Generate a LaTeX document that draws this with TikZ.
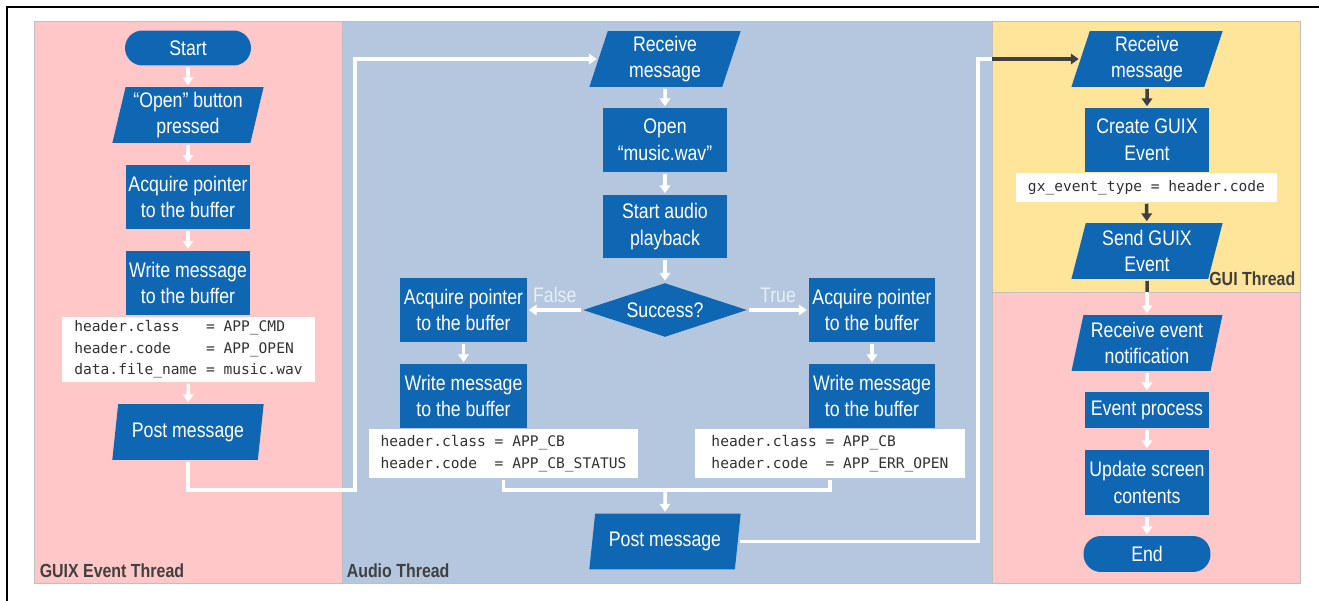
\documentclass[tikz,border=0pt]{standalone}
\usepackage{fontspec}
\setmainfont{Liberation Sans}
\setmonofont{DejaVu Sans Mono}
\newfontfamily\nodefont{Liberation Sans}[FakeStretch=0.84]
\usetikzlibrary{shapes.geometric,arrows.meta}
\definecolor{nodeblue}{RGB}{15,103,180}
\definecolor{lanepink}{RGB}{255,199,199}
\definecolor{laneblue}{RGB}{180,199,223}
\definecolor{laneyellow}{RGB}{255,229,153}
\definecolor{labgray}{RGB}{64,64,64}
\definecolor{codegray}{RGB}{50,50,50}
\definecolor{branchtext}{RGB}{232,238,246}

\begin{document}
\begin{tikzpicture}[x=0.02cm,y=-0.02cm]
\useasboundingbox (0,0) rectangle (1319,601);
% frame and thread lanes
\draw[line width=1.1pt] (7,601) -- (7,7) -- (1319,7);
\filldraw[draw=black!25,fill=lanepink] (34,21) rectangle (342,583);
\filldraw[draw=black!25,fill=laneblue] (342,21) rectangle (992,583);
\filldraw[draw=black!25,fill=laneyellow] (992,21) rectangle (1300,292);
\filldraw[draw=black!25,fill=lanepink] (992,292) rectangle (1300,583);
\begin{scope}[->,>={Triangle[width=6pt,length=4.5pt]},line width=2pt,
              block1/.style={rectangle,fill=nodeblue,text=white,align=center,inner sep=0pt,
                             minimum width=2.5cm,minimum height=1.3cm,
                             font=\nodefont\fontsize{12}{15.3}\selectfont},
              block2/.style={trapezium,trapezium left angle=76,trapezium right angle=104,
                             trapezium stretches=true,fill=nodeblue,text=white,align=center,
                             inner sep=0pt,minimum width=3.04cm,minimum height=1.12cm,
                             font=\nodefont\fontsize{12}{15.3}\selectfont},
              block3/.style={rectangle,rounded corners=0.35cm,fill=nodeblue,text=white,
                             minimum width=2.52cm,minimum height=0.7cm,
                             font=\nodefont\fontsize{12}{15.3}\selectfont},
              block4/.style={diamond,aspect=3,fill=nodeblue,text=white,inner sep=0pt,
                             minimum width=3.3cm,minimum height=1.1cm,
                             font=\nodefont\fontsize{12}{15.3}\selectfont},
              block5/.style={rectangle,fill=white,text=codegray,align=left,inner sep=0pt,
                             font=\ttfamily\fontsize{8.3}{12.2}\selectfont},
              lab/.style={anchor=base west,inner sep=0pt,text=labgray,
                          font=\nodefont\bfseries\fontsize{10.8}{13}\selectfont},
              branch/.style={above,text=branchtext,font=\nodefont\fontsize{12}{14}\selectfont},
              wedge/.style={draw=white},
              dedge/.style={draw=labgray}]
    % GUIX event thread
    \node [block3] (1) at (188,48) {Start};
    \node [block2] (2) at (188,115) {“Open” button\\pressed};
    \node [block1] (3) at (188,197) {Acquire pointer\\to the buffer};
    \node [block1] (4) at (188,283) {Write message\\to the buffer};
    \node [block5,minimum width=5.06cm,minimum height=1.3cm] (5) at (188.5,349.5)
          {header.class\ \ \ = APP\_CMD\\header.code\ \ \ \ = APP\_OPEN\\data.file\_name = music.wav};
    \node [block2] (6) at (188,432) {Post message};
    % audio thread
    \node [block2] (7) at (665,59) {Receive\\message};
    \node [block1,minimum height=1.28cm] (8) at (665,140) {Open\\“music.wav”};
    \node [block1,minimum height=1.26cm] (9) at (665,226.5) {Start audio\\playback};
    \node [block4] (10) at (665,310) {Success?};
    \node [block1,minimum width=2.54cm] (11) at (463.5,310) {Acquire pointer\\to the buffer};
    \node [block1,minimum width=2.54cm,minimum height=1.28cm] (12) at (463.5,396) {Write message\\to the buffer};
    \node [block5,minimum width=5.38cm,minimum height=0.98cm] (13) at (503.5,453.5)
          {header.class = APP\_CB\\header.code\ \ = APP\_CB\_STATUS};
    \node [block1,minimum width=2.54cm] (14) at (872,310) {Acquire pointer\\to the buffer};
    \node [block1,minimum width=2.54cm,minimum height=1.28cm] (15) at (872,396) {Write message\\to the buffer};
    \node [block5,minimum width=5.4cm,minimum height=0.98cm] (16) at (830,453.5)
          {header.class = APP\_CB\\header.code\ \ = APP\_ERR\_OPEN};
    \node [block2] (17) at (665,541.5) {Post message};
    % GUI thread
    \node [block2] (18) at (1147,59) {Receive\\message};
    \node [block1,minimum height=1.28cm] (19) at (1147,140) {Create GUIX\\Event};
    \node [block5,minimum width=5.22cm,minimum height=0.58cm] (20) at (1146.5,187.5)
          {gx\_event\_type = header.code};
    \node [block2] (21) at (1147,251) {Send GUIX\\Event};
    \node [block2] (22) at (1147,343) {Receive event\\notification};
    \node [block1,minimum height=0.72cm] (23) at (1147,410) {Event process};
    \node [block1,minimum height=1.3cm] (24) at (1147,482.5) {Update screen\\contents};
    \node [block3,minimum width=2.54cm,minimum height=0.72cm] (25) at (1147,554) {End};
    % lane titles
    \node [lab] (26) at (38,577) {GUIX Event Thread};
    \node [lab] (27) at (345,577) {Audio Thread};
    \node [lab,anchor=base east] (28) at (1297,286) {GUI Thread};
    \coordinate (m) at (665,490);
    \coordinate (c1) at (355,490);
    \coordinate (c2) at (978,59);
    \coordinate (c3) at (992,59);
    \coordinate (c4) at (1147,292);
    \path (1) edge [wedge] (2);
    \path (2) edge [wedge] (3);
    \path (3) edge [wedge] (4);
    \path (5) edge [wedge] (6);
    \draw [wedge] (6.south) |- (c1) |- (7.west);
    \path (7) edge [wedge] (8);
    \path (8) edge [wedge] (9);
    \path (9) edge [wedge] (10);
    \path (10) edge [wedge] node [branch] {False} (11);
    \path (10) edge [wedge] node [branch] {True} (14);
    \path (11) edge [wedge] (12);
    \path (14) edge [wedge] (15);
    \draw [wedge,-] (13.south) |- (m);
    \draw [wedge,-] (16.south) |- (m);
    \path (m) edge [wedge] (17);
    \draw [wedge,-] (17.east) -| (c2) -- (c3);
    \draw [dedge] (c3) -- (18.west);
    \path (18) edge [dedge] (19);
    \path (20) edge [dedge] (21);
    \path (21) edge [wedge] (22);
    \draw [dedge,-] (21) -- (c4);
    \path (22) edge [wedge] (23);
    \path (23) edge [wedge] (24);
    \path (24) edge [wedge] (25);
\end{scope}
\end{tikzpicture}
\end{document}
